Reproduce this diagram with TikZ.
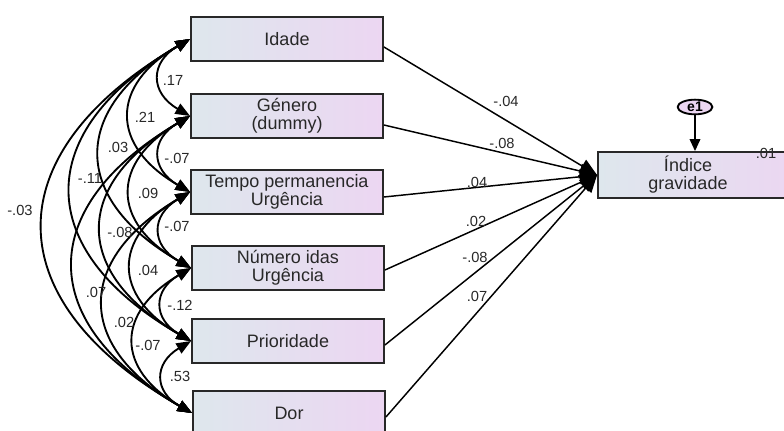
\documentclass[tikz,border=0pt]{standalone}
\usepackage{fontspec}
\setmainfont{Liberation Sans}
\usetikzlibrary{arrows.meta,shapes.geometric}

\definecolor{boxleft}{RGB}{222,231,237}
\definecolor{boxright}{RGB}{236,214,242}
\definecolor{ink}{RGB}{40,40,40}

\tikzset{
  varbox/.style={draw=ink, line width=1.4pt, left color=boxleft, right color=boxright,
    minimum width=144pt, minimum height=33pt, inner sep=0pt, align=center,
    font=\fontsize{13.5}{13.5}\selectfont, text=ink},
  errnode/.style={ellipse, draw=black, line width=1.4pt, fill=boxright,
    minimum width=26pt, minimum height=11pt, inner sep=0pt,
    font=\fontsize{10.5}{10.5}\selectfont\bfseries},
  coef/.style={font=\fontsize{11}{11}\selectfont, text=ink, inner sep=0pt},
  cov/.style={{Triangle[length=11pt,width=8.5pt]}-{Triangle[length=11pt,width=8.5pt]},
    line width=1.4pt, bend right=60, looseness=1.55},
  regline/.style={-{Triangle[length=13pt,width=11pt]}, line width=1.1pt}
}

\begin{document}
\begin{tikzpicture}[x=0.75pt, y=-0.75pt]
  \useasboundingbox (0,0) rectangle (784,431);
  \clip (0,0) rectangle (784,431);

  % observed variables
  \node[varbox] (idade) at (287,39) {Idade};
  \node[varbox] (genero) at (287,116) {Género\\(dummy)};
  \node[varbox] (tempo) at (287,192) {Tempo permanencia\\Urgência};
  \node[varbox] (numero) at (288,268) {Número idas\\Urgência};
  \node[varbox] (prioridade) at (288,341) {Prioridade};
  \node[varbox] (dor) at (289,413) {Dor};

  % endogenous variable and error
  \node[varbox, minimum width=151.5pt, minimum height=34.5pt] (indice) at (699,175) {};
  \node[coef, font=\fontsize{13.5}{13.5}\selectfont, align=center] (indicetxt) at (688,175) {Índice\\gravidade};
  \node[errnode] (e1) at (695,107) {e1};
  \node[coef] (r2) at (766,153) {.01};
  \draw[-{Triangle[length=9pt,width=8pt]}, line width=1.1pt] (e1) -- (indice.north -| e1);

  % regression weights
  \draw[regline] ([yshift=-6pt]idade.east) -- (indice.west);
  \draw[regline] ([yshift=-6.75pt]genero.east) -- (indice.west);
  \draw[regline] ([yshift=-3.75pt]tempo.east) -- (indice.west);
  \draw[regline] ([yshift=-1.5pt]numero.east) -- (indice.west);
  \draw[regline] ([yshift=-3pt]prioridade.east) -- (indice.west);
  \draw[regline] ([yshift=-3pt]dor.east) -- (indice.west);
  \node[coef] (b1) at (506,101) {-.04};
  \node[coef] (b2) at (502,143) {-.08};
  \node[coef] (b3) at (477,182) {.04};
  \node[coef] (b4) at (476,221) {.02};
  \node[coef] (b5) at (475,257) {-.08};
  \node[coef] (b6) at (477,296) {.07};

  % correlations
  \draw[cov] (idade.west) to (genero.west);
  \draw[cov] (idade.west) to (tempo.west);
  \draw[cov] (idade.west) to (numero.west);
  \draw[cov] (idade.west) to (prioridade.west);
  \draw[cov] (idade.west) to (dor.west);
  \draw[cov] (genero.west) to (tempo.west);
  \draw[cov] (genero.west) to (numero.west);
  \draw[cov] (genero.west) to (prioridade.west);
  \draw[cov] (genero.west) to (dor.west);
  \draw[cov] (tempo.west) to (numero.west);
  \draw[cov] (tempo.west) to (prioridade.west);
  \draw[cov] (tempo.west) to (dor.west);
  \draw[cov] (numero.west) to (prioridade.west);
  \draw[cov] (numero.west) to (dor.west);
  \draw[cov] (prioridade.west) to (dor.west);
  \node[coef] (c12) at (173,80) {.17};
  \node[coef] (c13) at (145,117) {.21};
  \node[coef] (c14) at (118,147) {.03};
  \node[coef] (c15) at (90,178) {-.11};
  \node[coef] (c16) at (20,210) {-.03};
  \node[coef] (c23) at (177,158) {-.07};
  \node[coef] (c24) at (148,193) {.09};
  \node[coef] (c25) at (120,232) {-.08};
  \node[coef] (c26) at (96,292) {.07};
  \node[coef] (c34) at (177,226) {-.07};
  \node[coef] (c35) at (148,270) {.04};
  \node[coef] (c36) at (124,322) {.02};
  \node[coef] (c45) at (180,305) {-.12};
  \node[coef] (c46) at (148,345) {-.07};
  \node[coef] (c56) at (180,376) {.53};
\end{tikzpicture}
\end{document}
